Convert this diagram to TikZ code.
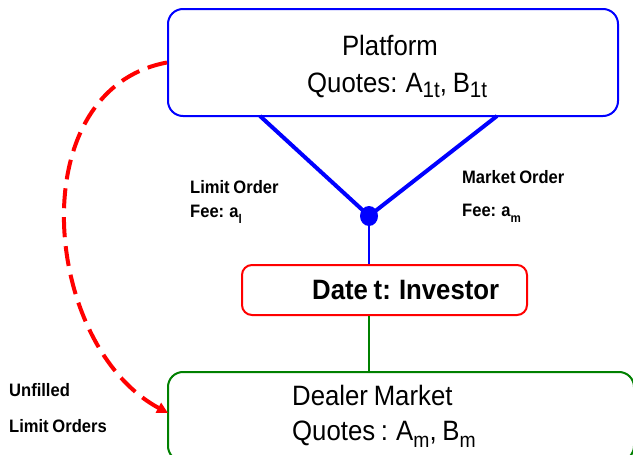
\documentclass[tikz,border=0pt]{standalone}
\usepackage{fontspec}
\setmainfont{Liberation Sans}[FakeStretch=0.92,WordSpace=0.8]
\usepackage{graphicx}
\usetikzlibrary{arrows.meta,shapes.geometric}
\definecolor{pblue}{RGB}{0,0,255}
\definecolor{pred}{RGB}{255,0,0}
\definecolor{pgreen}{RGB}{0,128,0}
\newcommand{\lsub}[3][0.2em]{\raisebox{-#1}{\scalebox{#2}{#3}}}
\begin{document}
\begin{tikzpicture}[x=1pt,y=-1pt,
  box/.style={draw, line width=2pt, rounded corners=15pt, inner sep=0pt},
  big/.style={font=\fontsize{28}{34}\selectfont, inner sep=0pt},
  lbl/.style={font=\bfseries\fontsize{18}{22}\selectfont, inner sep=0pt, anchor=base west},
  dotstyle/.style={ellipse, fill=pblue, draw=none, minimum width=18pt, minimum height=20pt, inner sep=0pt},
]
\useasboundingbox (0,0) rectangle (633,455);
\clip (0,0) rectangle (633,455);
\fill[white] (0,0) rectangle (633,455);

% boxes
\node[box, draw=pblue, minimum width=450pt, minimum height=107pt] (plat) at (393,62.5) {};
\node[box, draw=pred, rounded corners=10pt, minimum width=285pt, minimum height=50pt] (inv) at (384.5,290) {};
\node[box, draw=pgreen, minimum width=466pt, minimum height=89pt] (deal) at (401,416.5) {};

% V connectors and dot
\coordinate (pl) at (260,116);
\coordinate (pr) at (497,116);
\coordinate (dc) at (369,216);
\draw[pblue, line width=4pt] (pl) -- (dc) -- (pr);
\node[dotstyle] (dot) at (dc) {};
\draw[pblue, line width=1.2pt] (dot.south) -- (dot.south |- inv.north);
\draw[pgreen, line width=1.5pt] (dot |- inv.south) -- (dot |- deal.north);

% red dashed curve
\coordinate (uend) at (168,413);
\draw[pred, line width=4pt, dash pattern=on 20pt off 9pt, -{Triangle[length=11pt,width=11pt]}]
  (plat.west) .. controls (20,90) and (42,345) .. (uend);

% texts
\node[big, anchor=base] (platA) at (390,55) {Platform};
\node[big, anchor=base west] (platB) at (307,92) {Quotes: A\lsub{0.8}{1t}, B\lsub{0.8}{1t}};
\node[big, font=\bfseries\fontsize{28}{34}\selectfont, anchor=base west] (invT) at (312,299) {Date t: Investor};
\node[big, anchor=base west] (dealA) at (292,405) {Dealer Market};
\node[big, anchor=base west] (dealB) at (292,440) {Quotes : A\lsub[0.28em]{0.75}{m}, B\lsub[0.28em]{0.75}{m}};
\node[lbl] (l1) at (190,193) {Limit Order};
\node[lbl] (l2) at (190,217) {Fee: a\lsub[0.35em]{0.7}{l}};
\node[lbl] (m1) at (462,183) {Market Order};
\node[lbl] (m2) at (462,216) {Fee: a\lsub[0.35em]{0.7}{m}};
\node[lbl] (u1) at (9,396) {Unfilled};
\node[lbl] (u2) at (9,432) {Limit Orders};
\end{tikzpicture}
\end{document}
